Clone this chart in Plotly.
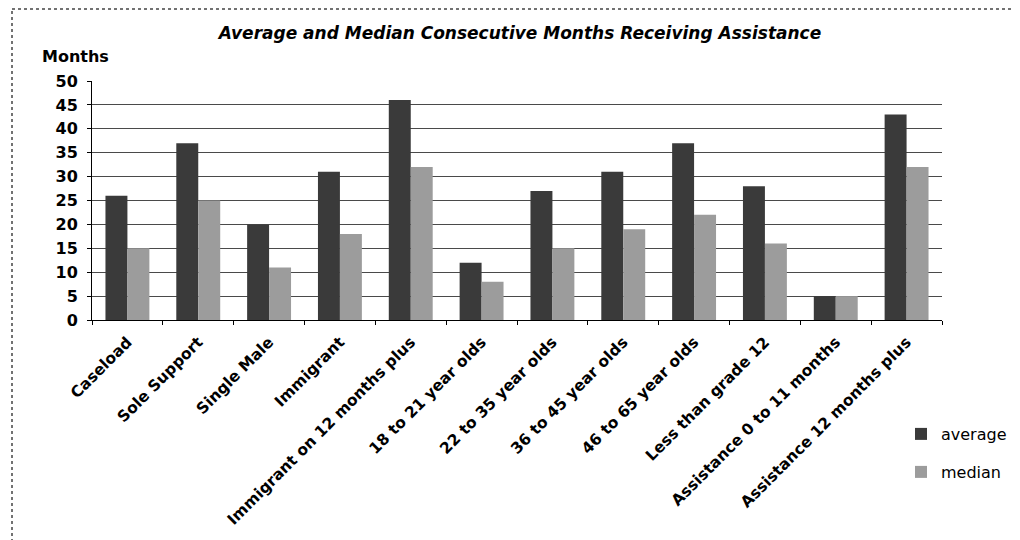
import plotly.graph_objects as go

categories = ["Caseload", "Sole Support", "Single Male", "Immigrant",
              "Immigrant on 12 months plus", "18 to 21 year olds", "22 to 35 year olds",
              "36 to 45 year olds", "46 to 65 year olds", "Less than grade 12",
              "Assistance 0 to 11 months", "Assistance 12 months plus"]
average = [26, 37, 20, 31, 46, 12, 27, 31, 37, 28, 5, 43]
median = [15, 25, 11, 18, 32, 8, 15, 19, 22, 16, 5, 32]
y_ticks = [0, 5, 10, 15, 20, 25, 30, 35, 40, 45, 50]

FONT = "DejaVu Sans"
OFF = 8  # browser body margin
W, H = 1020 - OFF, 540 - OFF
# plot area in reference pixel coords
L, R, T, B = 92, 942, 81, 320

fig = go.Figure()
fig.add_trace(go.Bar(x=categories, y=average, name="average",
                     marker=dict(color="#3a3a3a", line=dict(width=0)), legend="legend"))
fig.add_trace(go.Bar(x=categories, y=median, name="median",
                     marker=dict(color="#9c9c9c", line=dict(width=0)), legend="legend2"))

pw, ph = R - L, B - T
def px(x):
    return (x - L) / pw
def py(y):
    return (B - y) / ph

fig.update_layout(
    width=W, height=H,
    margin=dict(l=L - OFF, r=(1020 - R), t=T - OFF, b=(540 - B), autoexpand=False),
    paper_bgcolor="white", plot_bgcolor="white",
    barmode="group", bargap=0.38, bargroupgap=0,
    font=dict(family=FONT, size=13, color="black"),
    title=dict(text="<b><i>Average and Median Consecutive Months Receiving Assistance</i></b>",
               x=(520 - OFF) / W, xref="container", xanchor="center",
               y=1 - (33 - OFF) / H, yref="container", yanchor="middle",
               font=dict(family=FONT, size=17, color="black")),
    xaxis=dict(type="category", showgrid=False, showline=True, linecolor="black", linewidth=1,
               ticks="outside", tickson="boundaries", ticklen=4, tickcolor="black",
               tickangle=-45, ticklabelstandoff=6,
               tickfont=dict(family=FONT, size=15.5, weight="bold")),
    yaxis=dict(range=[0, 50], tickvals=y_ticks, showgrid=True, gridcolor="#4a4a4a", gridwidth=1,
               showline=True, linecolor="black", linewidth=1, ticks="outside", ticklen=4,
               tickcolor="black", zeroline=False, ticklabelstandoff=6,
               tickfont=dict(family=FONT, size=16, weight="bold")),
    legend=dict(x=px(901), y=py(434), xanchor="left", yanchor="middle",
                font=dict(family=FONT, size=16), bgcolor="rgba(0,0,0,0)",
                itemwidth=30),
    legend2=dict(x=px(901), y=py(472), xanchor="left", yanchor="middle",
                 font=dict(family=FONT, size=16), bgcolor="rgba(0,0,0,0)",
                 itemwidth=30),
    showlegend=True,
)

fig.add_annotation(text="<b>Months</b>", xref="paper", yref="paper",
                   x=px(75), y=py(57), xanchor="center", yanchor="middle",
                   showarrow=False, font=dict(family=FONT, size=16, color="black"))

# dotted chart frame (left and top edges visible)
fig.add_shape(type="line", xref="paper", yref="paper",
              x0=px(12), x1=px(12), y0=py(560), y1=py(9),
              line=dict(color="#444444", width=1.5, dash="dot"))
fig.add_shape(type="line", xref="paper", yref="paper",
              x0=px(12), x1=px(1040), y0=py(9), y1=py(9),
              line=dict(color="#444444", width=1.5, dash="dot"))

fig.write_html("out.html")
